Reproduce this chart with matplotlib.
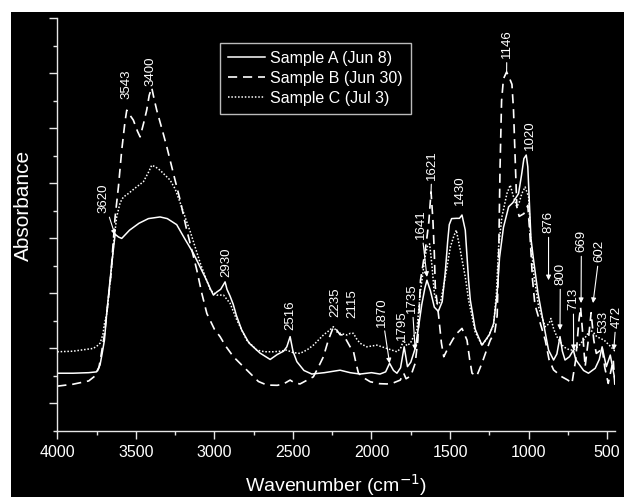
import matplotlib
matplotlib.use("Agg")
import matplotlib.pyplot as plt
from matplotlib.ticker import MultipleLocator, FixedLocator
from matplotlib.patches import Rectangle

plt.rcParams["font.family"] = ["Liberation Sans", "DejaVu Sans"]

# ---- data (wavenumber cm-1, absorbance a.u.) ----
wn_a = [4000, 3900, 3800, 3750, 3728, 3715, 3700, 3685, 3664, 3645, 3632, 3610, 3590,
        3540, 3480, 3420, 3346, 3300, 3240, 3190, 3135, 3090, 3050, 3020, 3006, 2985,
        2960, 2932, 2920, 2900, 2880, 2860, 2826, 2780, 2709, 2645, 2600, 2560, 2539,
        2518, 2500, 2475, 2430, 2380, 2300, 2200, 2136, 2073, 2000, 1946, 1910, 1885,
        1860, 1838, 1815, 1792, 1771, 1750, 1722, 1700, 1680, 1660, 1647, 1625, 1600,
        1575, 1550, 1530, 1515, 1505, 1490, 1460, 1440, 1424, 1403, 1382, 1371, 1340,
        1297, 1250, 1223, 1200, 1185, 1160, 1127, 1100, 1064, 1045, 1030, 1015, 1005,
        995, 985, 968, 940, 905, 873, 841, 820, 800, 785, 768, 740, 715, 700, 683, 650,
        619, 576, 550, 532, 515, 505, 480, 465, 450]
abs_a = [2.10, 2.10, 2.12, 2.15, 2.40, 2.80, 3.30, 4.30, 5.50, 6.50, 7.15, 7.05, 7.00,
         7.30, 7.55, 7.72, 7.78, 7.72, 7.50, 7.00, 6.47, 5.95, 5.48, 5.10, 4.94, 5.05,
         5.15, 5.42, 5.15, 4.90, 4.60, 4.20, 3.67, 3.20, 2.83, 2.60, 2.78, 2.90, 3.06,
         3.43, 2.90, 2.52, 2.20, 2.07, 2.12, 2.21, 2.12, 2.07, 2.12, 2.07, 2.15, 2.46,
         2.20, 2.10, 2.30, 3.06, 2.34, 2.50, 3.00, 3.80, 4.60, 5.20, 5.48, 5.10, 4.50,
         4.35, 4.70, 5.80, 6.90, 7.50, 7.72, 7.73, 7.73, 7.85, 7.30, 5.48, 4.76, 3.70,
         3.12, 3.50, 3.90, 5.00, 6.30, 7.40, 8.15, 8.30, 8.63, 9.30, 9.90, 10.03, 9.60,
         8.30, 7.00, 6.20, 5.00, 3.91, 2.94, 2.58, 2.80, 3.43, 2.90, 2.58, 2.70, 2.94,
         2.60, 2.46, 2.20, 2.10, 2.28, 2.60, 3.06, 2.60, 2.34, 2.76, 2.30, 1.85]

wn_b = [4000, 3900, 3800, 3760, 3735, 3720, 3700, 3685, 3660, 3645, 3632, 3611, 3590,
        3570, 3558, 3540, 3516, 3490, 3473, 3450, 3431, 3415, 3399, 3385, 3367, 3330,
        3303, 3261, 3218, 3176, 3140, 3112, 3080, 3048, 3000, 2964, 2930, 2879, 2837,
        2773, 2720, 2666, 2600, 2560, 2518, 2490, 2455, 2410, 2370, 2340, 2306, 2275,
        2242, 2225, 2200, 2178, 2150, 2136, 2115, 2100, 2083, 2040, 2008, 1950, 1902,
        1860, 1817, 1795, 1780, 1750, 1722, 1705, 1688, 1668, 1650, 1635, 1621, 1609,
        1600, 1594, 1572, 1555, 1540, 1509, 1480, 1456, 1424, 1392, 1375, 1360, 1330,
        1297, 1270, 1244, 1215, 1200, 1190, 1182, 1172, 1160, 1140, 1120, 1106, 1096,
        1085, 1075, 1060, 1030, 1005, 990, 975, 960, 930, 894, 870, 841, 788, 750, 724,
        700, 680, 669, 655, 640, 620, 602, 585, 569, 550, 533, 515, 493, 475, 461, 450]
abs_b = [1.63, 1.70, 1.82, 2.00, 2.30, 2.80, 3.50, 4.27, 5.60, 6.80, 7.78, 8.87, 10.2,
         11.2, 11.66, 11.5, 11.3, 10.9, 10.69, 11.2, 11.66, 12.2, 12.48, 12.1, 11.66, 10.9,
         10.33, 9.36, 8.39, 7.30, 6.50, 5.85, 5.00, 4.27, 3.70, 3.43, 3.10, 2.70, 2.46,
         2.10, 1.80, 1.67, 1.66, 1.71, 1.85, 1.75, 1.71, 1.85, 1.97, 2.30, 2.70, 3.30,
         3.79, 3.70, 3.50, 3.49, 3.20, 3.06, 2.90, 2.50, 2.10, 1.90, 1.79, 1.72, 1.71,
         1.75, 1.85, 2.10, 1.90, 2.00, 2.46, 3.30, 5.48, 6.21, 6.90, 7.60, 8.69, 7.66,
         6.45, 5.24, 4.15, 3.20, 2.70, 3.06, 3.35, 3.55, 3.73, 3.30, 2.60, 2.10, 2.00,
         2.46, 2.90, 3.30, 3.60, 4.20, 6.50, 9.50, 12.0, 12.8, 13.05, 12.8, 12.6, 11.66,
         9.84, 8.15, 7.80, 7.90, 8.20, 7.00, 5.50, 4.60, 4.00, 3.30, 2.60, 2.22, 1.97, 1.85,
         1.73, 2.60, 4.00, 4.50, 3.50, 2.34, 3.30, 4.30, 3.30, 2.82, 2.90, 3.06, 2.30,
         1.73, 2.20, 2.58, 1.60]

wn_c = [4000, 3900, 3800, 3771, 3745, 3728, 3710, 3700, 3685, 3660, 3640, 3622, 3600,
        3580, 3548, 3500, 3452, 3420, 3399, 3375, 3346, 3282, 3250, 3218, 3176, 3154,
        3090, 3026, 2985, 2942, 2900, 2857, 2794, 2730, 2680, 2624, 2580, 2539, 2500,
        2455, 2410, 2370, 2306, 2270, 2242, 2220, 2199, 2157, 2135, 2115, 2095, 2073,
        2030, 1966, 1902, 1838, 1815, 1796, 1775, 1753, 1711, 1690, 1660, 1645, 1630,
        1615, 1600, 1580, 1560, 1530, 1498, 1475, 1460, 1435, 1403, 1382, 1340, 1297,
        1260, 1223, 1205, 1191, 1170, 1138, 1117, 1096, 1075, 1060, 1043, 1022, 1000,
        989, 968, 936, 894, 870, 858, 840, 820, 778, 740, 715, 680, 651, 608, 590, 566,
        519, 476, 450]
abs_c = [2.88, 2.90, 2.98, 3.00, 3.10, 3.19, 3.50, 3.90, 4.27, 5.60, 6.90, 7.78, 8.30,
         8.50, 8.63, 8.85, 9.06, 9.40, 9.66, 9.60, 9.48, 9.12, 8.80, 8.30, 7.60, 7.25,
         6.10, 5.12, 4.94, 4.94, 4.64, 4.03, 3.30, 2.94, 2.88, 2.88, 2.90, 2.94, 2.85,
         2.82, 2.95, 3.12, 3.49, 3.65, 3.79, 3.60, 3.55, 3.49, 3.55, 3.55, 3.35, 3.19,
         3.06, 3.12, 3.00, 2.88, 3.00, 3.30, 3.10, 3.19, 3.67, 5.00, 6.30, 6.70, 6.80,
         6.00, 5.00, 4.60, 4.70, 5.60, 6.69, 7.10, 7.30, 6.57, 5.60, 4.76, 3.60, 3.12,
         3.40, 3.85, 5.00, 6.69, 7.78, 8.63, 8.94, 8.51, 8.15, 8.30, 8.63, 8.87, 8.51,
         7.18, 5.73, 4.51, 3.79, 3.90, 4.09, 3.70, 3.43, 3.06, 2.95, 2.94, 3.10, 3.30,
         3.67, 3.60, 3.43, 3.30, 3.06, 2.90]

series_labels = ["Sample A (Jun 8)", "Sample B (Jun 30)", "Sample C (Jul 3)"]

# peak labels: text, text anchor (wn, abs) at text bottom, arrow tip or None, arrow style
peak_labels = [
    ("3620", (3707, 7.92), (3632, 7.12), "-|>"),
    ("3543", (3558, 12.06), None, None),
    ("3400", (3410, 12.55), None, None),
    ("2930", (2921, 5.59), None, None),
    ("2516", (2518, 3.67), None, None),
    ("2235", (2231, 4.14), None, None),
    ("2115", (2125, 4.09), None, None),
    ("1870", (1934, 3.79), (1885, 2.46), "-|>"),
    ("1795", (1806, 3.30), None, None),
    ("1735", (1743, 4.28), (1722, 2.94), "-|>"),
    ("1641", (1685, 6.98), (1647, 5.60), "-|>"),
    ("1621", (1615, 9.12), (1621, 8.69), "-"),
    ("1430", (1435, 8.21), None, None),
    ("1146", (1138, 13.54), (1140, 13.05), "-"),
    ("1020", (994, 10.21), None, None),
    ("876", (873, 7.19), (873, 5.48), "-|>"),
    ("800", (798, 5.30), (800, 3.67), "-|>"),
    ("713", (715, 4.40), (713, 2.94), "-|>"),
    ("669", (664, 6.50), (666, 4.65), "-|>"),
    ("602", (548, 6.14), (590, 4.65), "-|>"),
    ("533", (522, 3.55), None, None),
    ("472", (442, 3.74), (458, 2.94), "-|>"),
]

FG = "#e6e6e6"

fig = plt.figure(figsize=(6.24, 4.97), dpi=100, facecolor="white")
fig.patches.append(Rectangle((11 / 624, 0), 1, (497 - 12) / 497, transform=fig.transFigure,
                             facecolor="black", edgecolor="none", zorder=-10))
ax = fig.add_axes([57.3 / 624, 1 - 431 / 497, (615 - 57.3) / 624, (431 - 18.3) / 497])
ax.set_facecolor("black")

ax.plot(wn_a, abs_a, color="white", lw=1.1, label=series_labels[0])
ax.plot(wn_b, abs_b, color="white", lw=1.2, dashes=(5.5, 3.5), label=series_labels[1])
ax.plot(wn_c, abs_c, color="white", lw=1.1, ls=(0, (1, 1.2)), label=series_labels[2])

for txt, pos, tip, style in peak_labels:
    if tip is None:
        ax.text(pos[0], pos[1], txt, rotation=90, ha="center", va="bottom",
                color="white", fontsize=9.5, clip_on=False)
    else:
        ax.annotate(txt, xy=tip, xytext=pos, rotation=90, ha="center", va="bottom",
                    color="white", fontsize=9.5, annotation_clip=False,
                    arrowprops=dict(arrowstyle=style, color="white", lw=0.8,
                                    mutation_scale=7, shrinkA=1, shrinkB=0))

ax.set_xlim(4000, 450)
ax.set_ylim(0, 15)
ax.xaxis.set_major_locator(MultipleLocator(500))
ax.xaxis.set_minor_locator(MultipleLocator(250))
ax.yaxis.set_major_locator(FixedLocator(range(1, 16, 2)))
ax.yaxis.set_minor_locator(FixedLocator(range(0, 16, 2)))
ax.set_yticklabels([])
ax.tick_params(which="both", direction="out", colors=FG, width=1.0)
ax.tick_params(which="major", length=6)
ax.tick_params(which="minor", length=3)
ax.tick_params(axis="x", labelsize=11.5, labelcolor="white", pad=4)

for s in ["top", "right"]:
    ax.spines[s].set_visible(False)
for s in ["left", "bottom"]:
    ax.spines[s].set_color(FG)
    ax.spines[s].set_linewidth(1.0)

ax.set_xlabel("Wavenumber (cm$^{-1}$)", color="white", fontsize=14)
ax.xaxis.set_label_coords(0.5, -0.1)
ax.set_ylabel("Absorbance", color="white", fontsize=15)
ax.yaxis.set_label_coords(-0.043, 0.547)

leg = ax.legend(loc="upper left", bbox_to_anchor=(0.2917, 0.94), borderaxespad=0,
                fontsize=11.5, handlelength=2.3, handletextpad=0.35, labelspacing=0.3,
                borderpad=0.5, fancybox=False, framealpha=1, facecolor="black",
                edgecolor="#bbbbbb")
leg.get_frame().set_linewidth(1.0)
for t in leg.get_texts():
    t.set_color("white")

fig.savefig("out.png", dpi=100, facecolor=fig.get_facecolor())
